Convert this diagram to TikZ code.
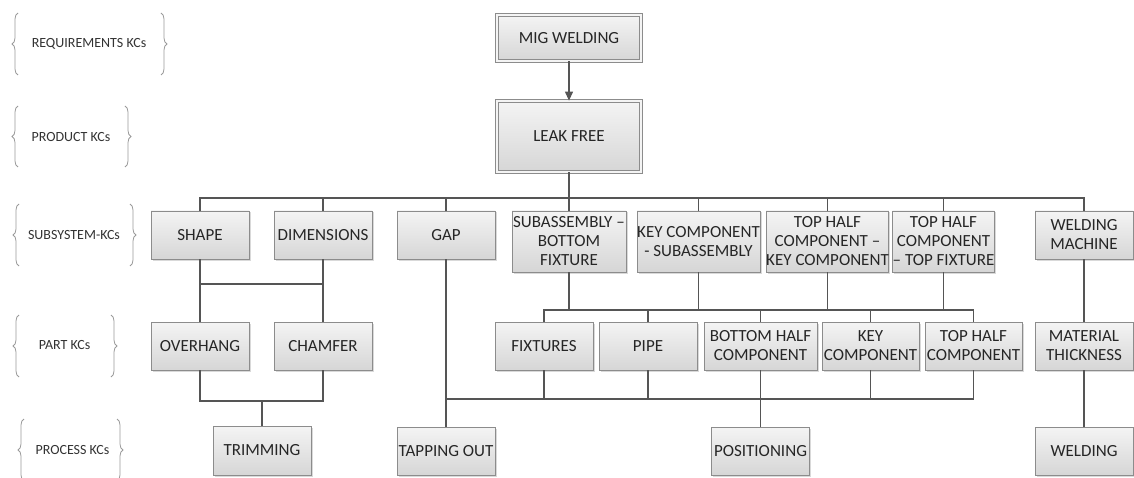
\documentclass[tikz,border=0pt]{standalone}
\usepackage{fontspec}
\setmainfont{Carlito}
\usetikzlibrary{arrows.meta,shadows,decorations.pathreplacing}
\definecolor{boxline}{HTML}{8C8C8C}
\definecolor{boxtop}{HTML}{F4F4F4}
\definecolor{boxbot}{HTML}{D6D6D6}
\definecolor{connc}{HTML}{555555}
\definecolor{txtc}{HTML}{262626}
\definecolor{lblc}{HTML}{333333}
\definecolor{bracec}{HTML}{9A9A9A}
\tikzset{
  kcbox/.style={draw=boxline, line width=0.9pt, top color=boxtop, bottom color=boxbot,
    minimum width=98pt, minimum height=48pt, inner sep=0pt, align=center,
    font=\fontsize{17}{19}\selectfont, text=txtc,
    drop shadow={shadow xshift=1.5pt, shadow yshift=-1.5pt, fill=black, opacity=0.15}},
  dblbox/.style={kcbox, double=boxtop, double distance=2pt, line width=0.8pt,
    minimum width=144pt},
  conn/.style={draw=connc, line width=1.2pt},
  lbl/.style={font=\fontsize{14}{16}\selectfont, text=lblc, inner sep=0pt},
  brc/.style={draw=bracec, line width=0.8pt, decorate, decoration={brace, amplitude=6pt}}
}
\begin{document}
\begin{tikzpicture}[x=1pt,y=-1pt]
\useasboundingbox (0,0) rectangle (1134,478);
% level labels
\node[lbl] (lreq) at (89,44) {REQUIREMENTS KCs};
\node[lbl] (lprod) at (71,137) {PRODUCT KCs};
\node[lbl] (lsub) at (74,235) {SUBSYSTEM-KCs};
\node[lbl] (lpart) at (64.5,345) {PART KCs};
\node[lbl] (lproc) at (72.5,450) {PROCESS KCs};
\draw[brc] (18,75) -- (18,13);
\draw[brc] (161,13) -- (161,75);
\draw[brc] (18,167) -- (18,106);
\draw[brc] (125,106) -- (125,167);
\draw[brc] (19,266) -- (19,204);
\draw[brc] (130,204) -- (130,266);
\draw[brc] (19,377) -- (19,315);
\draw[brc] (111,315) -- (111,377);
\draw[brc] (24,481) -- (24,419);
\draw[brc] (117,419) -- (117,481);
% boxes
\node[dblbox, minimum height=46pt] (mig) at (569,38) {MIG WELDING};
\node[dblbox, minimum height=71pt] (leak) at (569,136.5) {LEAK FREE};
\node[kcbox] (shape) at (200,235) {SHAPE};
\node[kcbox] (dim) at (323,235) {DIMENSIONS};
\node[kcbox] (gap) at (446,235) {GAP};
\node[kcbox, minimum width=114pt, minimum height=61pt] (subb) at (569,241.5) {SUBASSEMBLY --\\BOTTOM\\FIXTURE};
\node[kcbox, minimum width=123pt, minimum height=61pt] (keysub) at (698.5,241.5) {KEY COMPONENT\\- SUBASSEMBLY};
\node[kcbox, minimum width=121pt, minimum height=61pt] (thkey) at (827.5,241.5) {TOP HALF\\COMPONENT --\\KEY COMPONENT};
\node[kcbox, minimum width=99pt, minimum height=61pt] (thtop) at (943.5,241.5) {TOP HALF\\COMPONENT\\-- TOP FIXTURE};
\node[kcbox] (wm) at (1084,235) {WELDING\\MACHINE};
\node[kcbox] (overhang) at (200,346) {OVERHANG};
\node[kcbox] (chamfer) at (323,346) {CHAMFER};
\node[kcbox] (fixtures) at (544,346) {FIXTURES};
\node[kcbox] (pipe) at (648,346) {PIPE};
\node[kcbox, minimum width=113pt] (bhc) at (760.5,346) {BOTTOM HALF\\COMPONENT};
\node[kcbox, minimum width=97pt] (kc) at (870.5,346) {KEY\\COMPONENT};
\node[kcbox, minimum width=97pt] (thc) at (973.5,346) {TOP HALF\\COMPONENT};
\node[kcbox] (mt) at (1084,346) {MATERIAL\\THICKNESS};
\node[kcbox, minimum height=49pt] (trim) at (262,450.5) {TRIMMING};
\node[kcbox] (tap) at (446,451) {TAPPING OUT};
\node[kcbox] (pos) at (760.5,451) {POSITIONING};
\node[kcbox] (weld) at (1084,451) {WELDING};
% bus coordinates
\coordinate (tb) at (569,198);
\coordinate (lb1) at (262,284);
\coordinate (lb2) at (262,401);
\coordinate (mb) at (760.5,310);
\coordinate (lb) at (760.5,399);
% connectors
\draw[conn, -{Triangle[length=9pt,width=8pt]}] (mig.south) -- (leak.north);
\draw[conn] (leak.south) -- (tb);
\draw[conn] (shape.north) |- (tb) -| (wm.north);
\draw[conn] (dim.north) -- (dim.north |- tb);
\draw[conn] (gap.north) -- (gap.north |- tb);
\draw[conn] (subb.north) -- (tb);
\draw[conn] (keysub.north) -- (keysub.north |- tb);
\draw[conn] (thkey.north) -- (thkey.north |- tb);
\draw[conn] (thtop.north) -- (thtop.north |- tb);
\draw[conn] (shape.south) |- (lb1) -| (dim.south);
\draw[conn] (overhang.north) -- (overhang.north |- lb1);
\draw[conn] (chamfer.north) -- (chamfer.north |- lb1);
\draw[conn] (overhang.south) |- (lb2) -| (chamfer.south);
\draw[conn] (trim.north) -- (lb2);
\draw[conn] (fixtures.north) |- (mb) -| (thc.north);
\draw[conn] (subb.south) -- (subb.south |- mb);
\draw[conn] (keysub.south) -- (keysub.south |- mb);
\draw[conn] (thkey.south) -- (thkey.south |- mb);
\draw[conn] (thtop.south) -- (thtop.south |- mb);
\draw[conn] (pipe.north) -- (pipe.north |- mb);
\draw[conn] (bhc.north) -- (mb);
\draw[conn] (kc.north) -- (kc.north |- mb);
\draw[conn] (gap.south) -- (tap.north);
\draw[conn] (gap.south |- lb) -- (lb) -| (thc.south);
\draw[conn] (fixtures.south) -- (fixtures.south |- lb);
\draw[conn] (pipe.south) -- (pipe.south |- lb);
\draw[conn] (bhc.south) -- (pos.north);
\draw[conn] (kc.south) -- (kc.south |- lb);
\draw[conn] (wm.south) -- (mt.north);
\draw[conn] (mt.south) -- (weld.north);
\end{tikzpicture}
\end{document}
